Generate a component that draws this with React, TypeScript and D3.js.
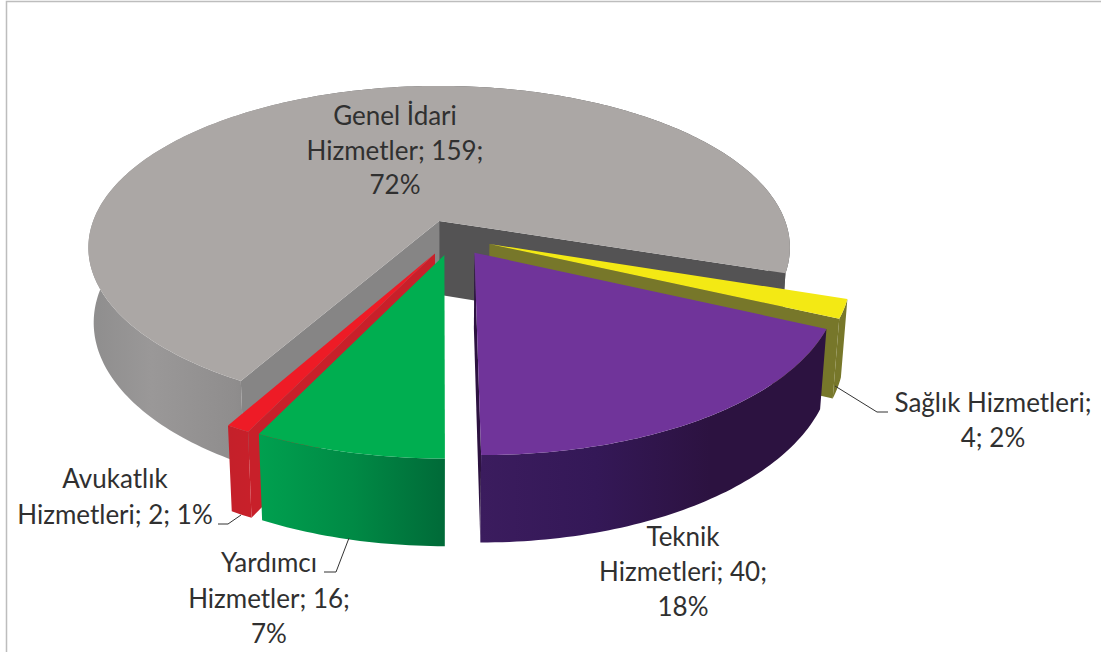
import React from "react";
import * as d3 from "d3";

// ---- data ----
const categories = ["Genel İdari Hizmetler", "Sağlık Hizmetleri", "Teknik Hizmetleri", "Yardımcı Hizmetler", "Avukatlık Hizmetleri"];
const values = [159, 4, 40, 16, 2];
const percents = ["72%", "2%", "18%", "7%", "1%"];

// ---- style ----
const topColors = ["#aba7a5", "#f3e914", "#70349a", "#00ae50", "#ee1b26"];
const radialStartColors = ["#868585", "#77772a", "#2c1240", "#007a3f", "#c8202a"];
const radialEndColors = ["#545354", "#77772a", "#2c1240", "#007a3f", "#c4202a"];
const wallStops: string[][] = [
  ["#8e8d8d", "#9a9898", "#8f8d8d", "#5a5a5a", "#545354"],
  ["#77772a", "#77772a"],
  ["#3b1c5e", "#341857", "#2c1240", "#2c1240"],
  ["#00a04f", "#008a45", "#006a38"],
  ["#c4202a", "#c8202a"],
];
const LABEL_COLOR = "#303030";
const FONT = "Lato, sans-serif";
const FONT_SIZE = 26;

// ---- oblique perspective ----
const WIDTH = 1101, HEIGHT = 652;
const ORIGIN_X = 439, ORIGIN_Y = 221;
const SCALE_X = 346, SCALE_Y = 157.3, DEPTH_H = 75;
const PERSP = 0.165, PERSP_H = 0.015;
const SHIFT_X = 0.04, SHIFT_Y = -0.102;
const EXPLODE = 0.11;
const RADIUS = 1.0;
const START = (209.4 * Math.PI) / 180;

const project = (X: number, Y: number, z: number): [number, number] => {
  const wx = X + SHIFT_X, wy = Y + SHIFT_Y;
  const w = 1 + PERSP * wy + PERSP_H * z;
  return [ORIGIN_X + (SCALE_X * wx) / w, ORIGIN_Y + (-SCALE_Y * wy + DEPTH_H * z) / w];
};

const arcs = d3.pie<number>().sort(null).startAngle(START).endAngle(START + 2 * Math.PI)(values);
const line = d3.line<[number, number]>();

type Pt = [number, number];
type Geo = {
  apex: (z: number) => Pt;
  rim: (t: number, z: number) => Pt;
  samples: number[];
  start: number;
  end: number;
};

const geos: Geo[] = arcs.map((a) => {
  const mid = (a.startAngle + a.endAngle) / 2;
  const ox = EXPLODE * Math.sin(mid), oy = EXPLODE * Math.cos(mid);
  const n = Math.max(2, Math.ceil(((a.endAngle - a.startAngle) * 180) / Math.PI));
  return {
    apex: (z: number) => project(ox, oy, z),
    rim: (t: number, z: number) => project(ox + RADIUS * Math.sin(t), oy + RADIUS * Math.cos(t), z),
    samples: d3.range(n + 1).map((i) => a.startAngle + ((a.endAngle - a.startAngle) * i) / n),
    start: a.startAngle,
    end: a.endAngle,
  };
});

const cross = (a: Pt, b: Pt, c: Pt) => (b[0] - a[0]) * (c[1] - a[1]) - (b[1] - a[1]) * (c[0] - a[0]);

// a radial wall faces the viewer if its lower edge falls outside the slice's top edge
const wallVisible = (g: Geo, t: number, inward: number) => {
  const a = g.apex(0), r = g.rim(t, 0);
  return cross(a, r, g.rim(t, 1)) * cross(a, r, g.rim(t + inward, 0)) < 0;
};

const labelLines: string[][] = [
  ["Genel İdari", "Hizmetler; " + values[0] + ";", percents[0]],
  ["Sağlık Hizmetleri;", values[1] + "; " + percents[1]],
  ["Teknik", "Hizmetleri; " + values[2] + ";", percents[2]],
  ["Yardımcı", "Hizmetler; " + values[3] + ";", percents[3]],
  ["Avukatlık", "Hizmetleri; " + values[4] + "; " + percents[4]],
];
const labelAnchors: Pt[] = [[395, 125], [993, 412], [683, 546], [269, 572], [115, 488]];
const labelPitch = [34.5, 35, 35, 35.5, 36];
const leaders: Pt[][] = [
  [],
  [[835, 386], [877, 412], [888, 412]],
  [],
  [[349, 538], [336, 572], [324, 572]],
  [[241, 515], [228, 524], [218, 524]],
];

const order = [0, 1, 4, 3, 2];

function Slice({ i }: { i: number }) {
  const g = geos[i];
  const wall = [...g.samples.map((t) => g.rim(t, 0)), ...g.samples.slice().reverse().map((t) => g.rim(t, 1))];
  const top = [g.apex(0), ...g.samples.map((t) => g.rim(t, 0))];
  const radial = (t: number) => [g.apex(0), g.rim(t, 0), g.rim(t, 1), g.apex(1)];
  const xs = d3.extent(wall, (p) => p[0]) as [number, number];
  const offsets = i === 0 ? [0, 0.09, 0.21, 0.4, 1] : wallStops[i].map((_, k) => k / (wallStops[i].length - 1));
  return (
    <g>
      <defs>
        <linearGradient id={"wall" + i} gradientUnits="userSpaceOnUse" x1={xs[0]} x2={xs[1]} y1={0} y2={0}>
          {offsets.map((o, k) => (
            <stop key={k} offset={o} stopColor={wallStops[i][k]} />
          ))}
        </linearGradient>
      </defs>
      {wallVisible(g, g.start, 0.02) && <path d={line(radial(g.start)) + "Z"} fill={radialStartColors[i]} />}
      {wallVisible(g, g.end, -0.02) && <path d={line(radial(g.end)) + "Z"} fill={radialEndColors[i]} />}
      <path d={line(wall) + "Z"} fill={`url(#wall${i})`} />
      <path d={line(top) + "Z"} fill={topColors[i]} />
    </g>
  );
}

export default function App() {
  return (
    <svg
      width={WIDTH}
      height={HEIGHT}
      viewBox={`0 0 ${WIDTH} ${HEIGHT}`}
      style={{ position: "fixed", left: 0, top: 0, display: "block", background: "#fff" }}
    >
      <path d={`M6.5 ${HEIGHT}V1.5H${WIDTH}`} fill="none" stroke="#bdbdbd" strokeWidth={1.5} />
      {order.map((i) => (
        <Slice key={i} i={i} />
      ))}
      {leaders.map((l, i) =>
        l.length ? <path key={i} d={line(l) ?? ""} fill="none" stroke="#333" strokeWidth={1} /> : null
      )}
      {labelLines.map((lines, i) => (
        <text
          key={i}
          textAnchor="middle"
          fontFamily={FONT}
          fontSize={FONT_SIZE}
          fill={LABEL_COLOR}
          aria-label={categories[i]}
        >
          {lines.map((s, k) => (
            <tspan key={k} x={labelAnchors[i][0]} y={labelAnchors[i][1] + k * labelPitch[i]}>
              {s}
            </tspan>
          ))}
        </text>
      ))}
    </svg>
  );
}
